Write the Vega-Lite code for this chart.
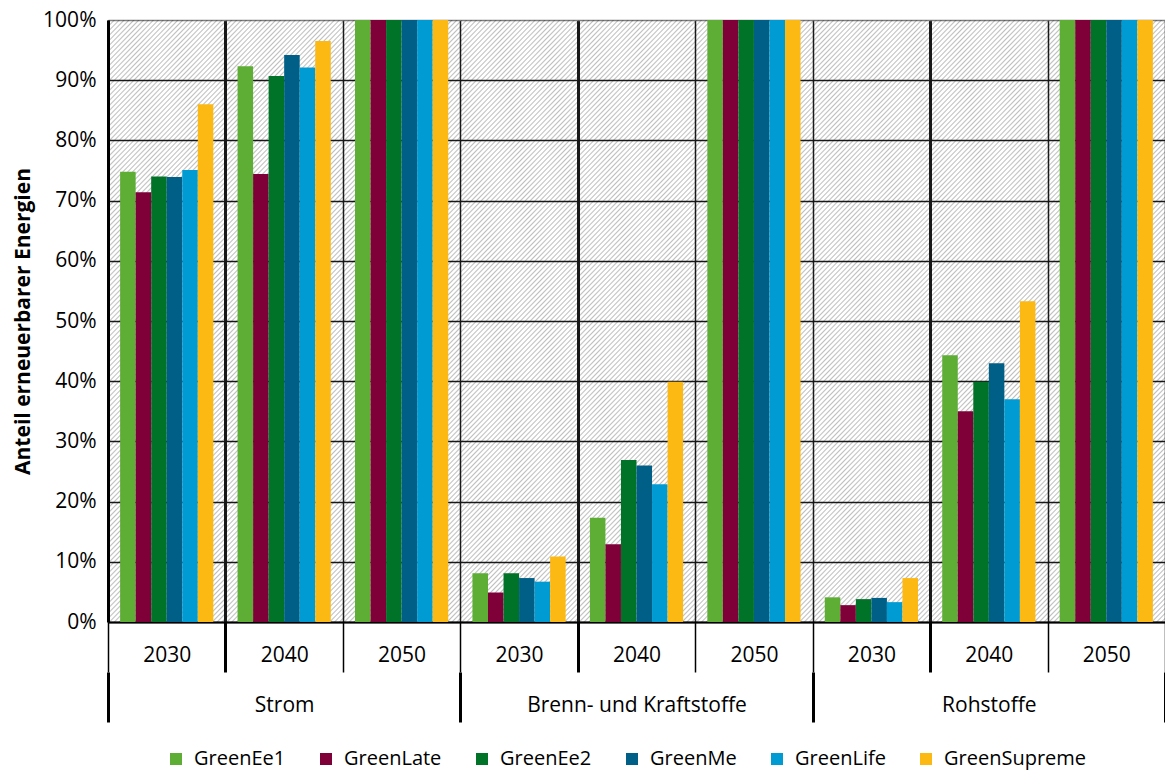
{
  "$schema": "https://vega.github.io/schema/vega-lite/v6.json",
  "width": 1057,
  "height": 602,
  "autosize": {"type": "none"},
  "padding": {"left": 108, "top": 20, "right": 0, "bottom": 154},
  "background": "white",
  "config": {
    "font": "Open Sans",
    "view": {"stroke": null}
  },
  "datasets": {
    "tiles": [
      {"lo": 0, "hi": 0.2, "k": ["Strom 2030","Strom 2040","Strom 2050","Brenn- und Kraftstoffe 2030","Brenn- und Kraftstoffe 2040","Brenn- und Kraftstoffe 2050","Rohstoffe 2030","Rohstoffe 2040","Rohstoffe 2050"]},
      {"lo": 0.2, "hi": 0.4, "k": ["Strom 2030","Strom 2040","Strom 2050","Brenn- und Kraftstoffe 2030","Brenn- und Kraftstoffe 2040","Brenn- und Kraftstoffe 2050","Rohstoffe 2030","Rohstoffe 2040","Rohstoffe 2050"]},
      {"lo": 0.4, "hi": 0.6, "k": ["Strom 2030","Strom 2040","Strom 2050","Brenn- und Kraftstoffe 2030","Brenn- und Kraftstoffe 2040","Brenn- und Kraftstoffe 2050","Rohstoffe 2030","Rohstoffe 2040","Rohstoffe 2050"]},
      {"lo": 0.6, "hi": 0.8, "k": ["Strom 2030","Strom 2040","Strom 2050","Brenn- und Kraftstoffe 2030","Brenn- und Kraftstoffe 2040","Brenn- und Kraftstoffe 2050","Rohstoffe 2030","Rohstoffe 2040","Rohstoffe 2050"]},
      {"lo": 0.8, "hi": 1.0, "k": ["Strom 2030","Strom 2040","Strom 2050","Brenn- und Kraftstoffe 2030","Brenn- und Kraftstoffe 2040","Brenn- und Kraftstoffe 2050","Rohstoffe 2030","Rohstoffe 2040","Rohstoffe 2050"]}
    ],
    "bars": [
      {"k": "Strom 2030", "cat": "Strom", "s": "GreenEe1", "v": 0.748},
      {"k": "Strom 2030", "cat": "Strom", "s": "GreenLate", "v": 0.714},
      {"k": "Strom 2030", "cat": "Strom", "s": "GreenEe2", "v": 0.740},
      {"k": "Strom 2030", "cat": "Strom", "s": "GreenMe", "v": 0.739},
      {"k": "Strom 2030", "cat": "Strom", "s": "GreenLife", "v": 0.751},
      {"k": "Strom 2030", "cat": "Strom", "s": "GreenSupreme", "v": 0.860},
      {"k": "Strom 2040", "cat": "Strom", "s": "GreenEe1", "v": 0.923},
      {"k": "Strom 2040", "cat": "Strom", "s": "GreenLate", "v": 0.744},
      {"k": "Strom 2040", "cat": "Strom", "s": "GreenEe2", "v": 0.907},
      {"k": "Strom 2040", "cat": "Strom", "s": "GreenMe", "v": 0.942},
      {"k": "Strom 2040", "cat": "Strom", "s": "GreenLife", "v": 0.921},
      {"k": "Strom 2040", "cat": "Strom", "s": "GreenSupreme", "v": 0.965},
      {"k": "Strom 2050", "cat": "Strom", "s": "GreenEe1", "v": 1.0},
      {"k": "Strom 2050", "cat": "Strom", "s": "GreenLate", "v": 1.0},
      {"k": "Strom 2050", "cat": "Strom", "s": "GreenEe2", "v": 1.0},
      {"k": "Strom 2050", "cat": "Strom", "s": "GreenMe", "v": 1.0},
      {"k": "Strom 2050", "cat": "Strom", "s": "GreenLife", "v": 1.0},
      {"k": "Strom 2050", "cat": "Strom", "s": "GreenSupreme", "v": 1.0},
      {"k": "Brenn- und Kraftstoffe 2030", "cat": "Brenn- und Kraftstoffe", "s": "GreenEe1", "v": 0.081},
      {"k": "Brenn- und Kraftstoffe 2030", "cat": "Brenn- und Kraftstoffe", "s": "GreenLate", "v": 0.049},
      {"k": "Brenn- und Kraftstoffe 2030", "cat": "Brenn- und Kraftstoffe", "s": "GreenEe2", "v": 0.081},
      {"k": "Brenn- und Kraftstoffe 2030", "cat": "Brenn- und Kraftstoffe", "s": "GreenMe", "v": 0.073},
      {"k": "Brenn- und Kraftstoffe 2030", "cat": "Brenn- und Kraftstoffe", "s": "GreenLife", "v": 0.067},
      {"k": "Brenn- und Kraftstoffe 2030", "cat": "Brenn- und Kraftstoffe", "s": "GreenSupreme", "v": 0.109},
      {"k": "Brenn- und Kraftstoffe 2040", "cat": "Brenn- und Kraftstoffe", "s": "GreenEe1", "v": 0.173},
      {"k": "Brenn- und Kraftstoffe 2040", "cat": "Brenn- und Kraftstoffe", "s": "GreenLate", "v": 0.129},
      {"k": "Brenn- und Kraftstoffe 2040", "cat": "Brenn- und Kraftstoffe", "s": "GreenEe2", "v": 0.269},
      {"k": "Brenn- und Kraftstoffe 2040", "cat": "Brenn- und Kraftstoffe", "s": "GreenMe", "v": 0.260},
      {"k": "Brenn- und Kraftstoffe 2040", "cat": "Brenn- und Kraftstoffe", "s": "GreenLife", "v": 0.229},
      {"k": "Brenn- und Kraftstoffe 2040", "cat": "Brenn- und Kraftstoffe", "s": "GreenSupreme", "v": 0.399},
      {"k": "Brenn- und Kraftstoffe 2050", "cat": "Brenn- und Kraftstoffe", "s": "GreenEe1", "v": 1.0},
      {"k": "Brenn- und Kraftstoffe 2050", "cat": "Brenn- und Kraftstoffe", "s": "GreenLate", "v": 1.0},
      {"k": "Brenn- und Kraftstoffe 2050", "cat": "Brenn- und Kraftstoffe", "s": "GreenEe2", "v": 1.0},
      {"k": "Brenn- und Kraftstoffe 2050", "cat": "Brenn- und Kraftstoffe", "s": "GreenMe", "v": 1.0},
      {"k": "Brenn- und Kraftstoffe 2050", "cat": "Brenn- und Kraftstoffe", "s": "GreenLife", "v": 1.0},
      {"k": "Brenn- und Kraftstoffe 2050", "cat": "Brenn- und Kraftstoffe", "s": "GreenSupreme", "v": 1.0},
      {"k": "Rohstoffe 2030", "cat": "Rohstoffe", "s": "GreenEe1", "v": 0.041},
      {"k": "Rohstoffe 2030", "cat": "Rohstoffe", "s": "GreenLate", "v": 0.028},
      {"k": "Rohstoffe 2030", "cat": "Rohstoffe", "s": "GreenEe2", "v": 0.038},
      {"k": "Rohstoffe 2030", "cat": "Rohstoffe", "s": "GreenMe", "v": 0.040},
      {"k": "Rohstoffe 2030", "cat": "Rohstoffe", "s": "GreenLife", "v": 0.033},
      {"k": "Rohstoffe 2030", "cat": "Rohstoffe", "s": "GreenSupreme", "v": 0.073},
      {"k": "Rohstoffe 2040", "cat": "Rohstoffe", "s": "GreenEe1", "v": 0.443},
      {"k": "Rohstoffe 2040", "cat": "Rohstoffe", "s": "GreenLate", "v": 0.350},
      {"k": "Rohstoffe 2040", "cat": "Rohstoffe", "s": "GreenEe2", "v": 0.399},
      {"k": "Rohstoffe 2040", "cat": "Rohstoffe", "s": "GreenMe", "v": 0.430},
      {"k": "Rohstoffe 2040", "cat": "Rohstoffe", "s": "GreenLife", "v": 0.370},
      {"k": "Rohstoffe 2040", "cat": "Rohstoffe", "s": "GreenSupreme", "v": 0.533},
      {"k": "Rohstoffe 2050", "cat": "Rohstoffe", "s": "GreenEe1", "v": 1.0},
      {"k": "Rohstoffe 2050", "cat": "Rohstoffe", "s": "GreenLate", "v": 1.0},
      {"k": "Rohstoffe 2050", "cat": "Rohstoffe", "s": "GreenEe2", "v": 1.0},
      {"k": "Rohstoffe 2050", "cat": "Rohstoffe", "s": "GreenMe", "v": 1.0},
      {"k": "Rohstoffe 2050", "cat": "Rohstoffe", "s": "GreenLife", "v": 1.0},
      {"k": "Rohstoffe 2050", "cat": "Rohstoffe", "s": "GreenSupreme", "v": 1.0}
    ]
  },
  "layer": [
    {
      "data": {"name": "tiles"},
      "transform": [{"flatten": ["k"]}],
      "mark": {
        "type": "rect",
        "strokeWidth": 0,
        "fill": {
          "gradient": "linear", "x1": 0, "y1": 0, "x2": 1, "y2": 1,
          "stops": [
            {"offset": 0, "color": "rgba(0,0,0,0)"},{"offset": 0.00625, "color": "rgba(0,0,0,0.25)"},{"offset": 0.0125, "color": "rgba(0,0,0,0)"},
            {"offset": 0.020833, "color": "rgba(0,0,0,0)"},{"offset": 0.027083, "color": "rgba(0,0,0,0.25)"},{"offset": 0.033333, "color": "rgba(0,0,0,0)"},
            {"offset": 0.041667, "color": "rgba(0,0,0,0)"},{"offset": 0.047917, "color": "rgba(0,0,0,0.25)"},{"offset": 0.054167, "color": "rgba(0,0,0,0)"},
            {"offset": 0.0625, "color": "rgba(0,0,0,0)"},{"offset": 0.06875, "color": "rgba(0,0,0,0.25)"},{"offset": 0.075, "color": "rgba(0,0,0,0)"},
            {"offset": 0.083333, "color": "rgba(0,0,0,0)"},{"offset": 0.089583, "color": "rgba(0,0,0,0.25)"},{"offset": 0.095833, "color": "rgba(0,0,0,0)"},
            {"offset": 0.104167, "color": "rgba(0,0,0,0)"},{"offset": 0.110417, "color": "rgba(0,0,0,0.25)"},{"offset": 0.116667, "color": "rgba(0,0,0,0)"},
            {"offset": 0.125, "color": "rgba(0,0,0,0)"},{"offset": 0.13125, "color": "rgba(0,0,0,0.25)"},{"offset": 0.1375, "color": "rgba(0,0,0,0)"},
            {"offset": 0.145833, "color": "rgba(0,0,0,0)"},{"offset": 0.152083, "color": "rgba(0,0,0,0.25)"},{"offset": 0.158333, "color": "rgba(0,0,0,0)"},
            {"offset": 0.166667, "color": "rgba(0,0,0,0)"},{"offset": 0.172917, "color": "rgba(0,0,0,0.25)"},{"offset": 0.179167, "color": "rgba(0,0,0,0)"},
            {"offset": 0.1875, "color": "rgba(0,0,0,0)"},{"offset": 0.19375, "color": "rgba(0,0,0,0.25)"},{"offset": 0.2, "color": "rgba(0,0,0,0)"},
            {"offset": 0.208333, "color": "rgba(0,0,0,0)"},{"offset": 0.214583, "color": "rgba(0,0,0,0.25)"},{"offset": 0.220833, "color": "rgba(0,0,0,0)"},
            {"offset": 0.229167, "color": "rgba(0,0,0,0)"},{"offset": 0.235417, "color": "rgba(0,0,0,0.25)"},{"offset": 0.241667, "color": "rgba(0,0,0,0)"},
            {"offset": 0.25, "color": "rgba(0,0,0,0)"},{"offset": 0.25625, "color": "rgba(0,0,0,0.25)"},{"offset": 0.2625, "color": "rgba(0,0,0,0)"},
            {"offset": 0.270833, "color": "rgba(0,0,0,0)"},{"offset": 0.277083, "color": "rgba(0,0,0,0.25)"},{"offset": 0.283333, "color": "rgba(0,0,0,0)"},
            {"offset": 0.291667, "color": "rgba(0,0,0,0)"},{"offset": 0.297917, "color": "rgba(0,0,0,0.25)"},{"offset": 0.304167, "color": "rgba(0,0,0,0)"},
            {"offset": 0.3125, "color": "rgba(0,0,0,0)"},{"offset": 0.31875, "color": "rgba(0,0,0,0.25)"},{"offset": 0.325, "color": "rgba(0,0,0,0)"},
            {"offset": 0.333333, "color": "rgba(0,0,0,0)"},{"offset": 0.339583, "color": "rgba(0,0,0,0.25)"},{"offset": 0.345833, "color": "rgba(0,0,0,0)"},
            {"offset": 0.354167, "color": "rgba(0,0,0,0)"},{"offset": 0.360417, "color": "rgba(0,0,0,0.25)"},{"offset": 0.366667, "color": "rgba(0,0,0,0)"},
            {"offset": 0.375, "color": "rgba(0,0,0,0)"},{"offset": 0.38125, "color": "rgba(0,0,0,0.25)"},{"offset": 0.3875, "color": "rgba(0,0,0,0)"},
            {"offset": 0.395833, "color": "rgba(0,0,0,0)"},{"offset": 0.402083, "color": "rgba(0,0,0,0.25)"},{"offset": 0.408333, "color": "rgba(0,0,0,0)"},
            {"offset": 0.416667, "color": "rgba(0,0,0,0)"},{"offset": 0.422917, "color": "rgba(0,0,0,0.25)"},{"offset": 0.429167, "color": "rgba(0,0,0,0)"},
            {"offset": 0.4375, "color": "rgba(0,0,0,0)"},{"offset": 0.44375, "color": "rgba(0,0,0,0.25)"},{"offset": 0.45, "color": "rgba(0,0,0,0)"},
            {"offset": 0.458333, "color": "rgba(0,0,0,0)"},{"offset": 0.464583, "color": "rgba(0,0,0,0.25)"},{"offset": 0.470833, "color": "rgba(0,0,0,0)"},
            {"offset": 0.479167, "color": "rgba(0,0,0,0)"},{"offset": 0.485417, "color": "rgba(0,0,0,0.25)"},{"offset": 0.491667, "color": "rgba(0,0,0,0)"},
            {"offset": 0.5, "color": "rgba(0,0,0,0)"},{"offset": 0.50625, "color": "rgba(0,0,0,0.25)"},{"offset": 0.5125, "color": "rgba(0,0,0,0)"},
            {"offset": 0.520833, "color": "rgba(0,0,0,0)"},{"offset": 0.527083, "color": "rgba(0,0,0,0.25)"},{"offset": 0.533333, "color": "rgba(0,0,0,0)"},
            {"offset": 0.541667, "color": "rgba(0,0,0,0)"},{"offset": 0.547917, "color": "rgba(0,0,0,0.25)"},{"offset": 0.554167, "color": "rgba(0,0,0,0)"},
            {"offset": 0.5625, "color": "rgba(0,0,0,0)"},{"offset": 0.56875, "color": "rgba(0,0,0,0.25)"},{"offset": 0.575, "color": "rgba(0,0,0,0)"},
            {"offset": 0.583333, "color": "rgba(0,0,0,0)"},{"offset": 0.589583, "color": "rgba(0,0,0,0.25)"},{"offset": 0.595833, "color": "rgba(0,0,0,0)"},
            {"offset": 0.604167, "color": "rgba(0,0,0,0)"},{"offset": 0.610417, "color": "rgba(0,0,0,0.25)"},{"offset": 0.616667, "color": "rgba(0,0,0,0)"},
            {"offset": 0.625, "color": "rgba(0,0,0,0)"},{"offset": 0.63125, "color": "rgba(0,0,0,0.25)"},{"offset": 0.6375, "color": "rgba(0,0,0,0)"},
            {"offset": 0.645833, "color": "rgba(0,0,0,0)"},{"offset": 0.652083, "color": "rgba(0,0,0,0.25)"},{"offset": 0.658333, "color": "rgba(0,0,0,0)"},
            {"offset": 0.666667, "color": "rgba(0,0,0,0)"},{"offset": 0.672917, "color": "rgba(0,0,0,0.25)"},{"offset": 0.679167, "color": "rgba(0,0,0,0)"},
            {"offset": 0.6875, "color": "rgba(0,0,0,0)"},{"offset": 0.69375, "color": "rgba(0,0,0,0.25)"},{"offset": 0.7, "color": "rgba(0,0,0,0)"},
            {"offset": 0.708333, "color": "rgba(0,0,0,0)"},{"offset": 0.714583, "color": "rgba(0,0,0,0.25)"},{"offset": 0.720833, "color": "rgba(0,0,0,0)"},
            {"offset": 0.729167, "color": "rgba(0,0,0,0)"},{"offset": 0.735417, "color": "rgba(0,0,0,0.25)"},{"offset": 0.741667, "color": "rgba(0,0,0,0)"},
            {"offset": 0.75, "color": "rgba(0,0,0,0)"},{"offset": 0.75625, "color": "rgba(0,0,0,0.25)"},{"offset": 0.7625, "color": "rgba(0,0,0,0)"},
            {"offset": 0.770833, "color": "rgba(0,0,0,0)"},{"offset": 0.777083, "color": "rgba(0,0,0,0.25)"},{"offset": 0.783333, "color": "rgba(0,0,0,0)"},
            {"offset": 0.791667, "color": "rgba(0,0,0,0)"},{"offset": 0.797917, "color": "rgba(0,0,0,0.25)"},{"offset": 0.804167, "color": "rgba(0,0,0,0)"},
            {"offset": 0.8125, "color": "rgba(0,0,0,0)"},{"offset": 0.81875, "color": "rgba(0,0,0,0.25)"},{"offset": 0.825, "color": "rgba(0,0,0,0)"},
            {"offset": 0.833333, "color": "rgba(0,0,0,0)"},{"offset": 0.839583, "color": "rgba(0,0,0,0.25)"},{"offset": 0.845833, "color": "rgba(0,0,0,0)"},
            {"offset": 0.854167, "color": "rgba(0,0,0,0)"},{"offset": 0.860417, "color": "rgba(0,0,0,0.25)"},{"offset": 0.866667, "color": "rgba(0,0,0,0)"},
            {"offset": 0.875, "color": "rgba(0,0,0,0)"},{"offset": 0.88125, "color": "rgba(0,0,0,0.25)"},{"offset": 0.8875, "color": "rgba(0,0,0,0)"},
            {"offset": 0.895833, "color": "rgba(0,0,0,0)"},{"offset": 0.902083, "color": "rgba(0,0,0,0.25)"},{"offset": 0.908333, "color": "rgba(0,0,0,0)"},
            {"offset": 0.916667, "color": "rgba(0,0,0,0)"},{"offset": 0.922917, "color": "rgba(0,0,0,0.25)"},{"offset": 0.929167, "color": "rgba(0,0,0,0)"},
            {"offset": 0.9375, "color": "rgba(0,0,0,0)"},{"offset": 0.94375, "color": "rgba(0,0,0,0.25)"},{"offset": 0.95, "color": "rgba(0,0,0,0)"},
            {"offset": 0.958333, "color": "rgba(0,0,0,0)"},{"offset": 0.964583, "color": "rgba(0,0,0,0.25)"},{"offset": 0.970833, "color": "rgba(0,0,0,0)"},
            {"offset": 0.979167, "color": "rgba(0,0,0,0)"},{"offset": 0.985417, "color": "rgba(0,0,0,0.25)"},{"offset": 0.991667, "color": "rgba(0,0,0,0)"},
            {"offset": 1, "color": "rgba(0,0,0,0)"}
          ]
        }
      },
      "encoding": {
        "x": {"field": "k", "type": "nominal", "axis": null,
              "scale": {"type": "band", "domain": ["Strom 2030","Strom 2040","Strom 2050","Brenn- und Kraftstoffe 2030","Brenn- und Kraftstoffe 2040","Brenn- und Kraftstoffe 2050","Rohstoffe 2030","Rohstoffe 2040","Rohstoffe 2050"], "paddingInner": 0, "paddingOuter": 0}},
        "y": {"field": "lo", "type": "quantitative", "title": "Anteil erneuerbarer Energien",
              "scale": {"domain": [0, 1], "nice": false},
              "axis": {
                "format": ".0%",
                "values": [0, 0.1, 0.2, 0.3, 0.4, 0.5, 0.6, 0.7, 0.8, 0.9, 1.0],
                "titleFontSize": 21, "titleFontWeight": "bold", "titleColor": "black", "titlePadding": 9,
                "labelFontSize": 21, "labelColor": "black", "labelPadding": 12,
                "ticks": false, "tickSize": 0,
                "domain": true, "domainColor": "black", "domainWidth": 3,
                "grid": true,
                "gridColor": {"condition": {"test": "datum.value >= 0.999", "value": "#7f7f7f"}, "value": "#1a1a1a"},
                "gridWidth": 1.5
              }},
        "y2": {"field": "hi"}
      }
    },
    {
      "data": {"name": "bars"},
      "mark": {"type": "bar"},
      "encoding": {
        "x": {"field": "k", "type": "nominal",
              "scale": {"type": "band", "domain": ["Strom 2030","Strom 2040","Strom 2050","Brenn- und Kraftstoffe 2030","Brenn- und Kraftstoffe 2040","Brenn- und Kraftstoffe 2050","Rohstoffe 2030","Rohstoffe 2040","Rohstoffe 2050"], "paddingInner": 0, "paddingOuter": 0},
              "axis": {
                "title": null, "orient": "bottom", "tickBand": "extent", "labelAngle": 0,
                "labelExpr": "substring(datum.label, length(datum.label) - 4)",
                "labelFontSize": 21, "labelColor": "black", "labelPadding": -28, "labelLimit": 400,
                "ticks": true, "tickSize": 50, "tickColor": "black",
                "tickWidth": {"condition": {"test": "indexof(['Strom 2030','Brenn- und Kraftstoffe 2030','Rohstoffe 2030'], datum.value) >= 0", "value": 3}, "value": 1.5},
                "domain": true, "domainColor": "black", "domainWidth": 2,
                "grid": true, "gridColor": "#1a1a1a",
                "gridWidth": {"condition": {"test": "indexof(['Strom 2030','Brenn- und Kraftstoffe 2030','Rohstoffe 2030'], datum.value) >= 0", "value": 3}, "value": 1.5}
              }},
        "xOffset": {"field": "s", "type": "nominal",
                    "scale": {"domain": ["GreenEe1","GreenLate","GreenEe2","GreenMe","GreenLife","GreenSupreme"], "paddingInner": 0, "paddingOuter": 0.78}},
        "y": {"field": "v", "type": "quantitative", "title": "Anteil erneuerbarer Energien",
              "scale": {"domain": [0, 1], "nice": false},
              "axis": {
                "format": ".0%",
                "values": [0, 0.1, 0.2, 0.3, 0.4, 0.5, 0.6, 0.7, 0.8, 0.9, 1.0],
                "titleFontSize": 21, "titleFontWeight": "bold", "titleColor": "black", "titlePadding": 9,
                "labelFontSize": 21, "labelColor": "black", "labelPadding": 12,
                "ticks": false, "tickSize": 0,
                "domain": true, "domainColor": "black", "domainWidth": 3,
                "grid": true,
                "gridColor": {"condition": {"test": "datum.value >= 0.999", "value": "#7f7f7f"}, "value": "#1a1a1a"},
                "gridWidth": 1.5
              }},
        "color": {"field": "s", "type": "nominal",
                  "scale": {"domain": ["GreenEe1","GreenLate","GreenEe2","GreenMe","GreenLife","GreenSupreme"],
                            "range": ["#5EAD35","#7F0038","#007328","#005F87","#009BD3","#FDB913"]},
                  "legend": {
                    "title": null, "orient": "none", "legendX": 58, "legendY": 729,
                    "direction": "horizontal", "columns": 6, "gridAlign": "none", "columnPadding": 30,
                    "symbolType": "square", "symbolSize": 144, "symbolStrokeWidth": 0,
                    "labelFontSize": 20, "labelColor": "black", "labelOffset": 8, "labelLimit": 300
                  }}
      }
    },
    {
      "data": {"name": "bars"},
      "mark": {"type": "point", "opacity": 0},
      "encoding": {
        "x": {"field": "cat", "type": "nominal",
              "scale": {"type": "band", "domain": ["Strom","Brenn- und Kraftstoffe","Rohstoffe"], "paddingInner": 0, "paddingOuter": 0},
              "axis": {
                "title": null, "orient": "bottom", "offset": 50, "tickBand": "extent", "labelAngle": 0,
                "labelFontSize": 21, "labelColor": "black", "labelPadding": -28, "labelLimit": 400,
                "ticks": true, "tickSize": 50, "tickColor": "black", "tickWidth": 3,
                "domain": false, "grid": false
              }},
        "y": {"field": "v", "type": "quantitative", "title": "Anteil erneuerbarer Energien",
              "axis": {
                "format": ".0%",
                "values": [0, 0.1, 0.2, 0.3, 0.4, 0.5, 0.6, 0.7, 0.8, 0.9, 1.0],
                "titleFontSize": 21, "titleFontWeight": "bold", "titleColor": "black", "titlePadding": 9,
                "labelFontSize": 21, "labelColor": "black", "labelPadding": 12,
                "ticks": false, "tickSize": 0,
                "domain": true, "domainColor": "black", "domainWidth": 3,
                "grid": true,
                "gridColor": {"condition": {"test": "datum.value >= 0.999", "value": "#7f7f7f"}, "value": "#1a1a1a"},
                "gridWidth": 1.5
              }}
      }
    }
  ],
  "resolve": {"scale": {"x": "independent"}}
}
